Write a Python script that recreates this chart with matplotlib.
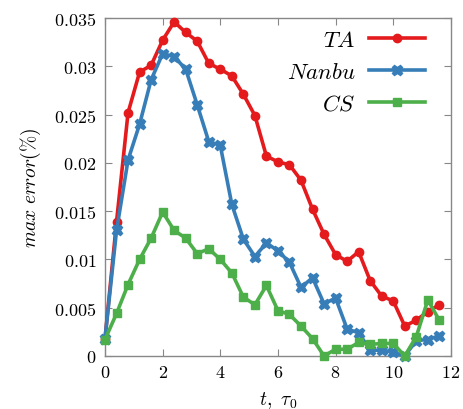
import matplotlib
matplotlib.use("Agg")
import matplotlib.pyplot as plt
import numpy as np

plt.rcParams['mathtext.fontset'] = 'cm'
plt.rcParams['font.family'] = ['cmr10', 'DejaVu Serif']
plt.rcParams['axes.formatter.use_mathtext'] = True

t = [0, 0.4, 0.8, 1.2, 1.6, 2.0, 2.4, 2.8, 3.2, 3.6, 4.0, 4.4, 4.8, 5.2, 5.6,
     6.0, 6.4, 6.8, 7.2, 7.6, 8.0, 8.4, 8.8, 9.2, 9.6, 10.0, 10.4, 10.8, 11.2, 11.6]

ta = [0.0018, 0.0139, 0.0252, 0.0294, 0.0301, 0.0327, 0.0346, 0.0335, 0.0326, 0.0303,
      0.0297, 0.0290, 0.0271, 0.0249, 0.0207, 0.0201, 0.0198, 0.0182, 0.0152, 0.0126,
      0.0105, 0.0098, 0.0108, 0.0078, 0.0062, 0.0057, 0.0031, 0.0037, 0.0046, 0.0053]

nanbu = [0.0018, 0.0130, 0.0203, 0.0240, 0.0286, 0.0313, 0.0310, 0.0297, 0.0260, 0.0222,
         0.0218, 0.0157, 0.0121, 0.0103, 0.0117, 0.0109, 0.0097, 0.0071, 0.0081, 0.0054,
         0.0060, 0.0028, 0.0024, 0.0006, 0.0006, 0.0004, 0.0000, 0.0016, 0.0017, 0.0021]

cs = [0.0017, 0.0044, 0.0074, 0.0100, 0.0122, 0.0149, 0.0130, 0.0122, 0.0106, 0.0111,
      0.0100, 0.0086, 0.0061, 0.0053, 0.0073, 0.0047, 0.0043, 0.0031, 0.0018, 0.0000,
      0.0007, 0.0007, 0.0014, 0.0012, 0.0013, 0.0013, 0.0000, 0.0020, 0.0058, 0.0037]

xticks = [0, 2, 4, 6, 8, 10, 12]
yticks = [0, 0.005, 0.01, 0.015, 0.02, 0.025, 0.03, 0.035]
ytick_labels = ['0', '0.005', '0.01', '0.015', '0.02', '0.025', '0.03', '0.035']

fig = plt.figure(figsize=(4.63, 4.10), dpi=100)
ax = fig.add_axes([0.2268, 0.1293, 0.747, 0.8244])

lw = 2.6
ax.plot(t, ta, color='#e41a1c', lw=lw, marker='o', ms=6, label='$TA$', clip_on=False, zorder=3)
ax.plot(t, nanbu, color='#377eb8', lw=lw, marker='X', ms=7.5, label='$Nanbu$', clip_on=False, zorder=4)
ax.plot(t, cs, color='#4daf4a', lw=lw, marker='s', ms=6, label='$CS$', clip_on=False, zorder=5)

ax.set_xlim(0, 12)
ax.set_ylim(0, 0.035)
ax.set_xticks(xticks)
ax.set_xticklabels([f'${v}$' for v in xticks])
ax.set_yticks(yticks)
ax.set_yticklabels([f'${v}$' for v in ytick_labels])
ax.tick_params(direction='in', top=True, right=True, length=5, width=0.8,
               color='#888888', labelsize=13, pad=6)
for s in ax.spines.values():
    s.set_color('#888888')
    s.set_linewidth(1.0)

ax.set_xlabel(r'$t,\ \tau_0$', fontsize=14, labelpad=6)
ax.set_ylabel(r'$max\ error(\%)$', fontsize=14, labelpad=8)

leg = ax.legend(loc='upper right', bbox_to_anchor=(0.945, 0.985), frameon=False,
                markerfirst=False, fontsize=16.5, handlelength=2.45, labelspacing=0.52,
                borderaxespad=0.0, handletextpad=0.6, borderpad=0.3)

fig.savefig('out.png', dpi=100)
